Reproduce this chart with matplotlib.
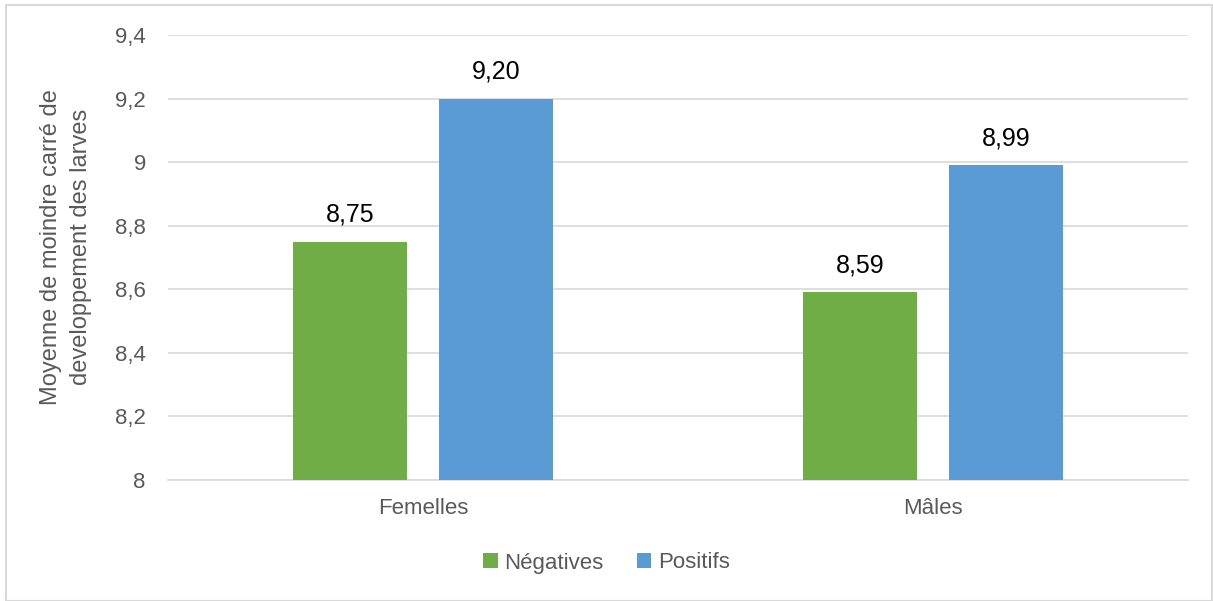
import numpy as np
import matplotlib
matplotlib.use('Agg')
import matplotlib.pyplot as plt
from matplotlib.patches import Rectangle

plt.rcParams['font.family'] = ['Liberation Sans', 'DejaVu Sans']

categories = ['Femelles', 'Mâles']
negatives = [8.75, 8.59]
positifs = [9.20, 8.99]
yticks = [8, 8.2, 8.4, 8.6, 8.8, 9, 9.2, 9.4]
ytick_labels = ['8', '8,2', '8,4', '8,6', '8,8', '9', '9,2', '9,4']

fig = plt.figure(figsize=(12.13, 6.01), dpi=100)
ax = fig.add_axes([168/1213, 1 - 480/601, 1020/1213, 445/601])

# cadre autour du graphique
fig.patches.append(Rectangle((6/1213, 0), 1 - 6/1213 - 1/1213, 1 - 5/601,
                             transform=fig.transFigure, fill=False,
                             edgecolor='#d9d9d9', linewidth=1.5))

x = np.arange(len(categories))
w = 0.224
off = 0.143
b1 = ax.bar(x - off, [v - 8 for v in negatives], w, bottom=8, color='#70ad47', label='Négatives', zorder=3)
b2 = ax.bar(x + off, [v - 8 for v in positifs], w, bottom=8, color='#5b9bd5', label='Positifs', zorder=3)

for xi, v in zip(x - off, negatives):
    ax.text(xi, v + 0.047, f'{v:.2f}'.replace('.', ','), ha='center', va='bottom', fontsize=18, color='black')
for xi, v in zip(x + off, positifs):
    ax.text(xi, v + 0.047, f'{v:.2f}'.replace('.', ','), ha='center', va='bottom', fontsize=18, color='black')

ax.set_xlim(-0.5, 1.5)
ax.set_ylim(8, 9.4)
ax.set_yticks(yticks)
ax.set_yticklabels(ytick_labels, fontsize=16, color='#595959')
ax.set_xticks(x)
ax.set_xticklabels(categories, fontsize=16, color='#595959')
ax.tick_params(axis='both', length=0)
ax.tick_params(axis='y', pad=16)
ax.tick_params(axis='x', pad=13)
ax.yaxis.grid(True, color='#d9d9d9', linewidth=1.2, zorder=0)
for s in ['top', 'right', 'left']:
    ax.spines[s].set_visible(False)
ax.spines['bottom'].set_color('#d9d9d9')
ax.spines['bottom'].set_linewidth(1.2)

fig.text(66/1213, 1 - 247/601, 'Moyenne de moindre carré de\ndeveloppement des larves',
         rotation=90, ha='center', va='center', multialignment='center',
         fontsize=17, color='#595959', linespacing=1.45)

fig.legend(handles=[b1, b2], labels=['Négatives', 'Positifs'], loc='center',
           bbox_to_anchor=(0.5, 1 - 563/601), ncol=2, frameon=False,
           fontsize=16, handlelength=0.65, handleheight=0.65, columnspacing=1.5,
           handletextpad=0.3, labelcolor='#595959')

fig.savefig('out.png', dpi=100)
